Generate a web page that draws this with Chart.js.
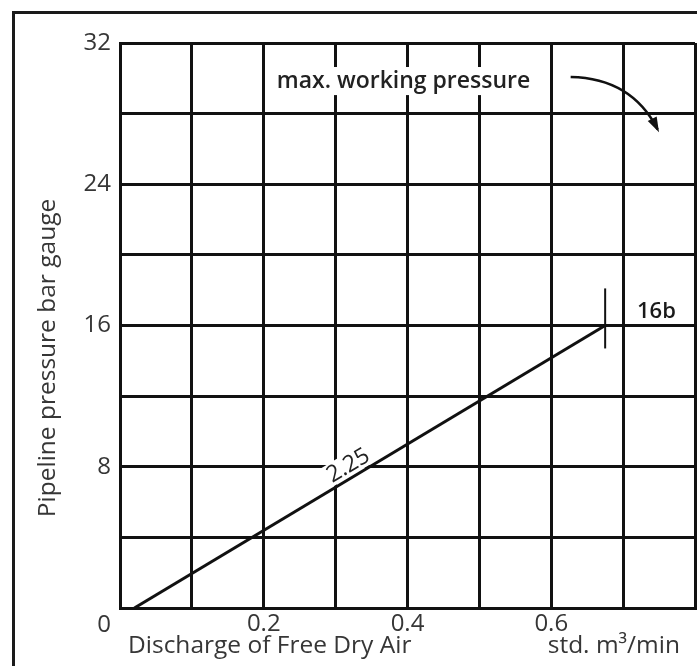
<!DOCTYPE html>
<html>
<head>
<meta charset="utf-8">
<script src="https://cdn.jsdelivr.net/npm/chart.js@4/dist/chart.umd.min.js"></script>
<style>
    html, body { margin: 0; padding: 0; background: #fff; }
    #wrap { width: 697px; height: 666px; position: relative; }
</style>
</head>
<body>
<div id="wrap"><canvas id="chart" width="697" height="666"></canvas></div>
<script>
// Pressure line (std. m3/min vs bar gauge)
const flowValues = [0.02, 0.675];
const pressureValues = [0, 16];

// Short vertical stop mark at the max working pressure end
const stopFlow = [0.675, 0.675];
const stopPressure = [14.7, 18.1];

// Labelled ticks (grid runs every 0.1 / 4 bar)
const xTickLabels = [0.2, 0.4, 0.6];
const yTickLabels = [8, 16, 24, 32];

const INK = '#111111';
const TEXT = '#363636';
const FONT = '"Open Sans", "DejaVu Sans", sans-serif';

function toPoints(xs, ys) {
    return xs.map((x, i) => ({ x, y: ys[i] }));
}

function whiteBox(ctx, x, y, w, h) {
    ctx.fillStyle = '#ffffff';
    ctx.fillRect(x, y, w, h);
}

/**
 * Everything that isn't a dataset: outer frame, the knocked-out labels
 * over the grid, the curved arrow and the axis titles.
 */
const annotations = {
    id: 'annotations',
    beforeDraw(chart) {
        const { ctx } = chart;
        ctx.save();
        ctx.fillStyle = '#ffffff';
        ctx.fillRect(0, 0, chart.width, chart.height);
        // outer frame, runs off the right and bottom edges
        ctx.strokeStyle = '#1a1a1a';
        ctx.lineWidth = 3;
        ctx.beginPath();
        ctx.moveTo(13.5, chart.height + 5);
        ctx.lineTo(13.5, 12.5);
        ctx.lineTo(chart.width + 5, 12.5);
        ctx.stroke();
        ctx.restore();
    },
    beforeDatasetsDraw(chart) {
        const { ctx, scales: { x, y } } = chart;
        ctx.save();

        // "max. working pressure" sits on a white patch
        const mx0 = x.getPixelForValue(0.2115), mx1 = x.getPixelForValue(0.591);
        const my0 = y.getPixelForValue(30.64), my1 = y.getPixelForValue(29.05);
        whiteBox(ctx, mx0, my0, mx1 - mx0, my1 - my0);
        ctx.fillStyle = '#222';
        ctx.font = `600 23px ${FONT}`;
        ctx.textBaseline = 'middle';
        ctx.textAlign = 'left';
        ctx.fillText('max. working pressure', x.getPixelForValue(0.218), y.getPixelForValue(29.85));

        // curved arrow pointing at the top-right cell
        const ax0 = x.getPixelForValue(0.627), ay0 = y.getPixelForValue(30.07);
        const acx = x.getPixelForValue(0.712), acy = y.getPixelForValue(30.0);
        const ax1 = x.getPixelForValue(0.748), ay1 = y.getPixelForValue(27.1);
        ctx.strokeStyle = INK;
        ctx.lineWidth = 2.5;
        ctx.beginPath();
        ctx.moveTo(ax0, ay0);
        ctx.quadraticCurveTo(acx, acy, ax1, ay1);
        ctx.stroke();
        const ang = Math.atan2(ay1 - acy, ax1 - acx);
        ctx.fillStyle = INK;
        ctx.beginPath();
        ctx.moveTo(ax1 + 3 * Math.cos(ang), ay1 + 3 * Math.sin(ang));
        ctx.lineTo(ax1 - 12 * Math.cos(ang) + 5 * Math.sin(ang), ay1 - 12 * Math.sin(ang) - 5 * Math.cos(ang));
        ctx.lineTo(ax1 - 12 * Math.cos(ang) - 5 * Math.sin(ang), ay1 - 12 * Math.sin(ang) + 5 * Math.cos(ang));
        ctx.closePath();
        ctx.fill();

        // "2.25" along the line, above it
        const lx0 = x.getPixelForValue(flowValues[0]), ly0 = y.getPixelForValue(pressureValues[0]);
        const lx1 = x.getPixelForValue(flowValues[1]), ly1 = y.getPixelForValue(pressureValues[1]);
        const slope = Math.atan2(ly1 - ly0, lx1 - lx0);
        const tx = x.getPixelForValue(0.313);
        const tyLine = ly0 + (tx - lx0) * Math.tan(slope);
        ctx.translate(tx + 4, tyLine - 15);
        ctx.rotate(slope);
        whiteBox(ctx, -29, -13, 58, 22);
        ctx.fillStyle = '#222';
        ctx.font = `500 23px ${FONT}`;
        ctx.textAlign = 'center';
        ctx.textBaseline = 'middle';
        ctx.fillText('2.25', 0, -1);
        ctx.setTransform(1, 0, 0, 1, 0, 0);

        // end label
        ctx.fillStyle = '#1a1a1a';
        ctx.font = `600 22px ${FONT}`;
        ctx.textAlign = 'left';
        ctx.textBaseline = 'middle';
        ctx.fillText('16b', x.getPixelForValue(0.7193), y.getPixelForValue(16.77));

        ctx.restore();
    },
    afterDraw(chart) {
        const { ctx, chartArea } = chart;
        ctx.save();
        ctx.fillStyle = TEXT;
        ctx.font = `400 24px ${FONT}`;

        // shared origin label
        ctx.textAlign = 'center';
        ctx.textBaseline = 'middle';
        ctx.fillText('0', chartArea.left - 16, chartArea.bottom + 17);

        // x axis titles
        ctx.font = `400 24.5px ${FONT}`;
        ctx.textBaseline = 'alphabetic';
        ctx.textAlign = 'left';
        ctx.fillText('Discharge of Free Dry Air', chartArea.left + 8, chartArea.bottom + 45);
        ctx.textAlign = 'right';
        ctx.fillText('std. m\u00B3/min', chartArea.left + 560, chartArea.bottom + 45);

        // y axis title
        ctx.translate(48, 358);
        ctx.rotate(-Math.PI / 2);
        ctx.textAlign = 'center';
        ctx.textBaseline = 'middle';
        ctx.fillText('Pipeline pressure bar gauge', 0, 0);
        ctx.restore();
    },
};

new Chart(document.getElementById('chart'), {
    type: 'line',
    data: {
        datasets: [
            {
                data: toPoints(flowValues, pressureValues),
                borderColor: INK,
                borderWidth: 3,
                pointRadius: 0,
                fill: false,
            },
            {
                data: toPoints(stopFlow, stopPressure),
                borderColor: INK,
                borderWidth: 2,
                pointRadius: 0,
                fill: false,
            },
        ],
    },
    options: {
        responsive: false,
        animation: false,
        devicePixelRatio: 1,
        layout: { padding: { top: 43, right: 2, left: 0, bottom: 0 } },
        plugins: {
            legend: { display: false },
            tooltip: { enabled: false },
        },
        scales: {
            x: {
                type: 'linear',
                min: 0,
                max: 0.8,
                afterFit: (s) => { s.height = 58; },
                ticks: {
                    stepSize: 0.1,
                    autoSkip: false,
                    maxRotation: 0,
                    padding: 2,
                    color: TEXT,
                    font: { family: FONT, size: 24 },
                    callback: (v) => {
                        const hit = xTickLabels.find((t) => Math.abs(t - v) < 1e-6);
                        return hit === undefined ? '' : hit.toFixed(1);
                    },
                },
                grid: { color: INK, lineWidth: 3, drawTicks: false },
                border: { color: INK, width: 3 },
            },
            y: {
                min: 0,
                max: 32,
                afterFit: (s) => { s.width = 120; },
                ticks: {
                    stepSize: 4,
                    autoSkip: false,
                    padding: 9,
                    color: TEXT,
                    font: { family: FONT, size: 24 },
                    callback: (v) => (yTickLabels.includes(v) ? String(v) : ''),
                },
                grid: { color: INK, lineWidth: 3, drawTicks: false },
                border: { color: INK, width: 3 },
            },
        },
    },
    plugins: [annotations],
});
</script>
</body>
</html>
